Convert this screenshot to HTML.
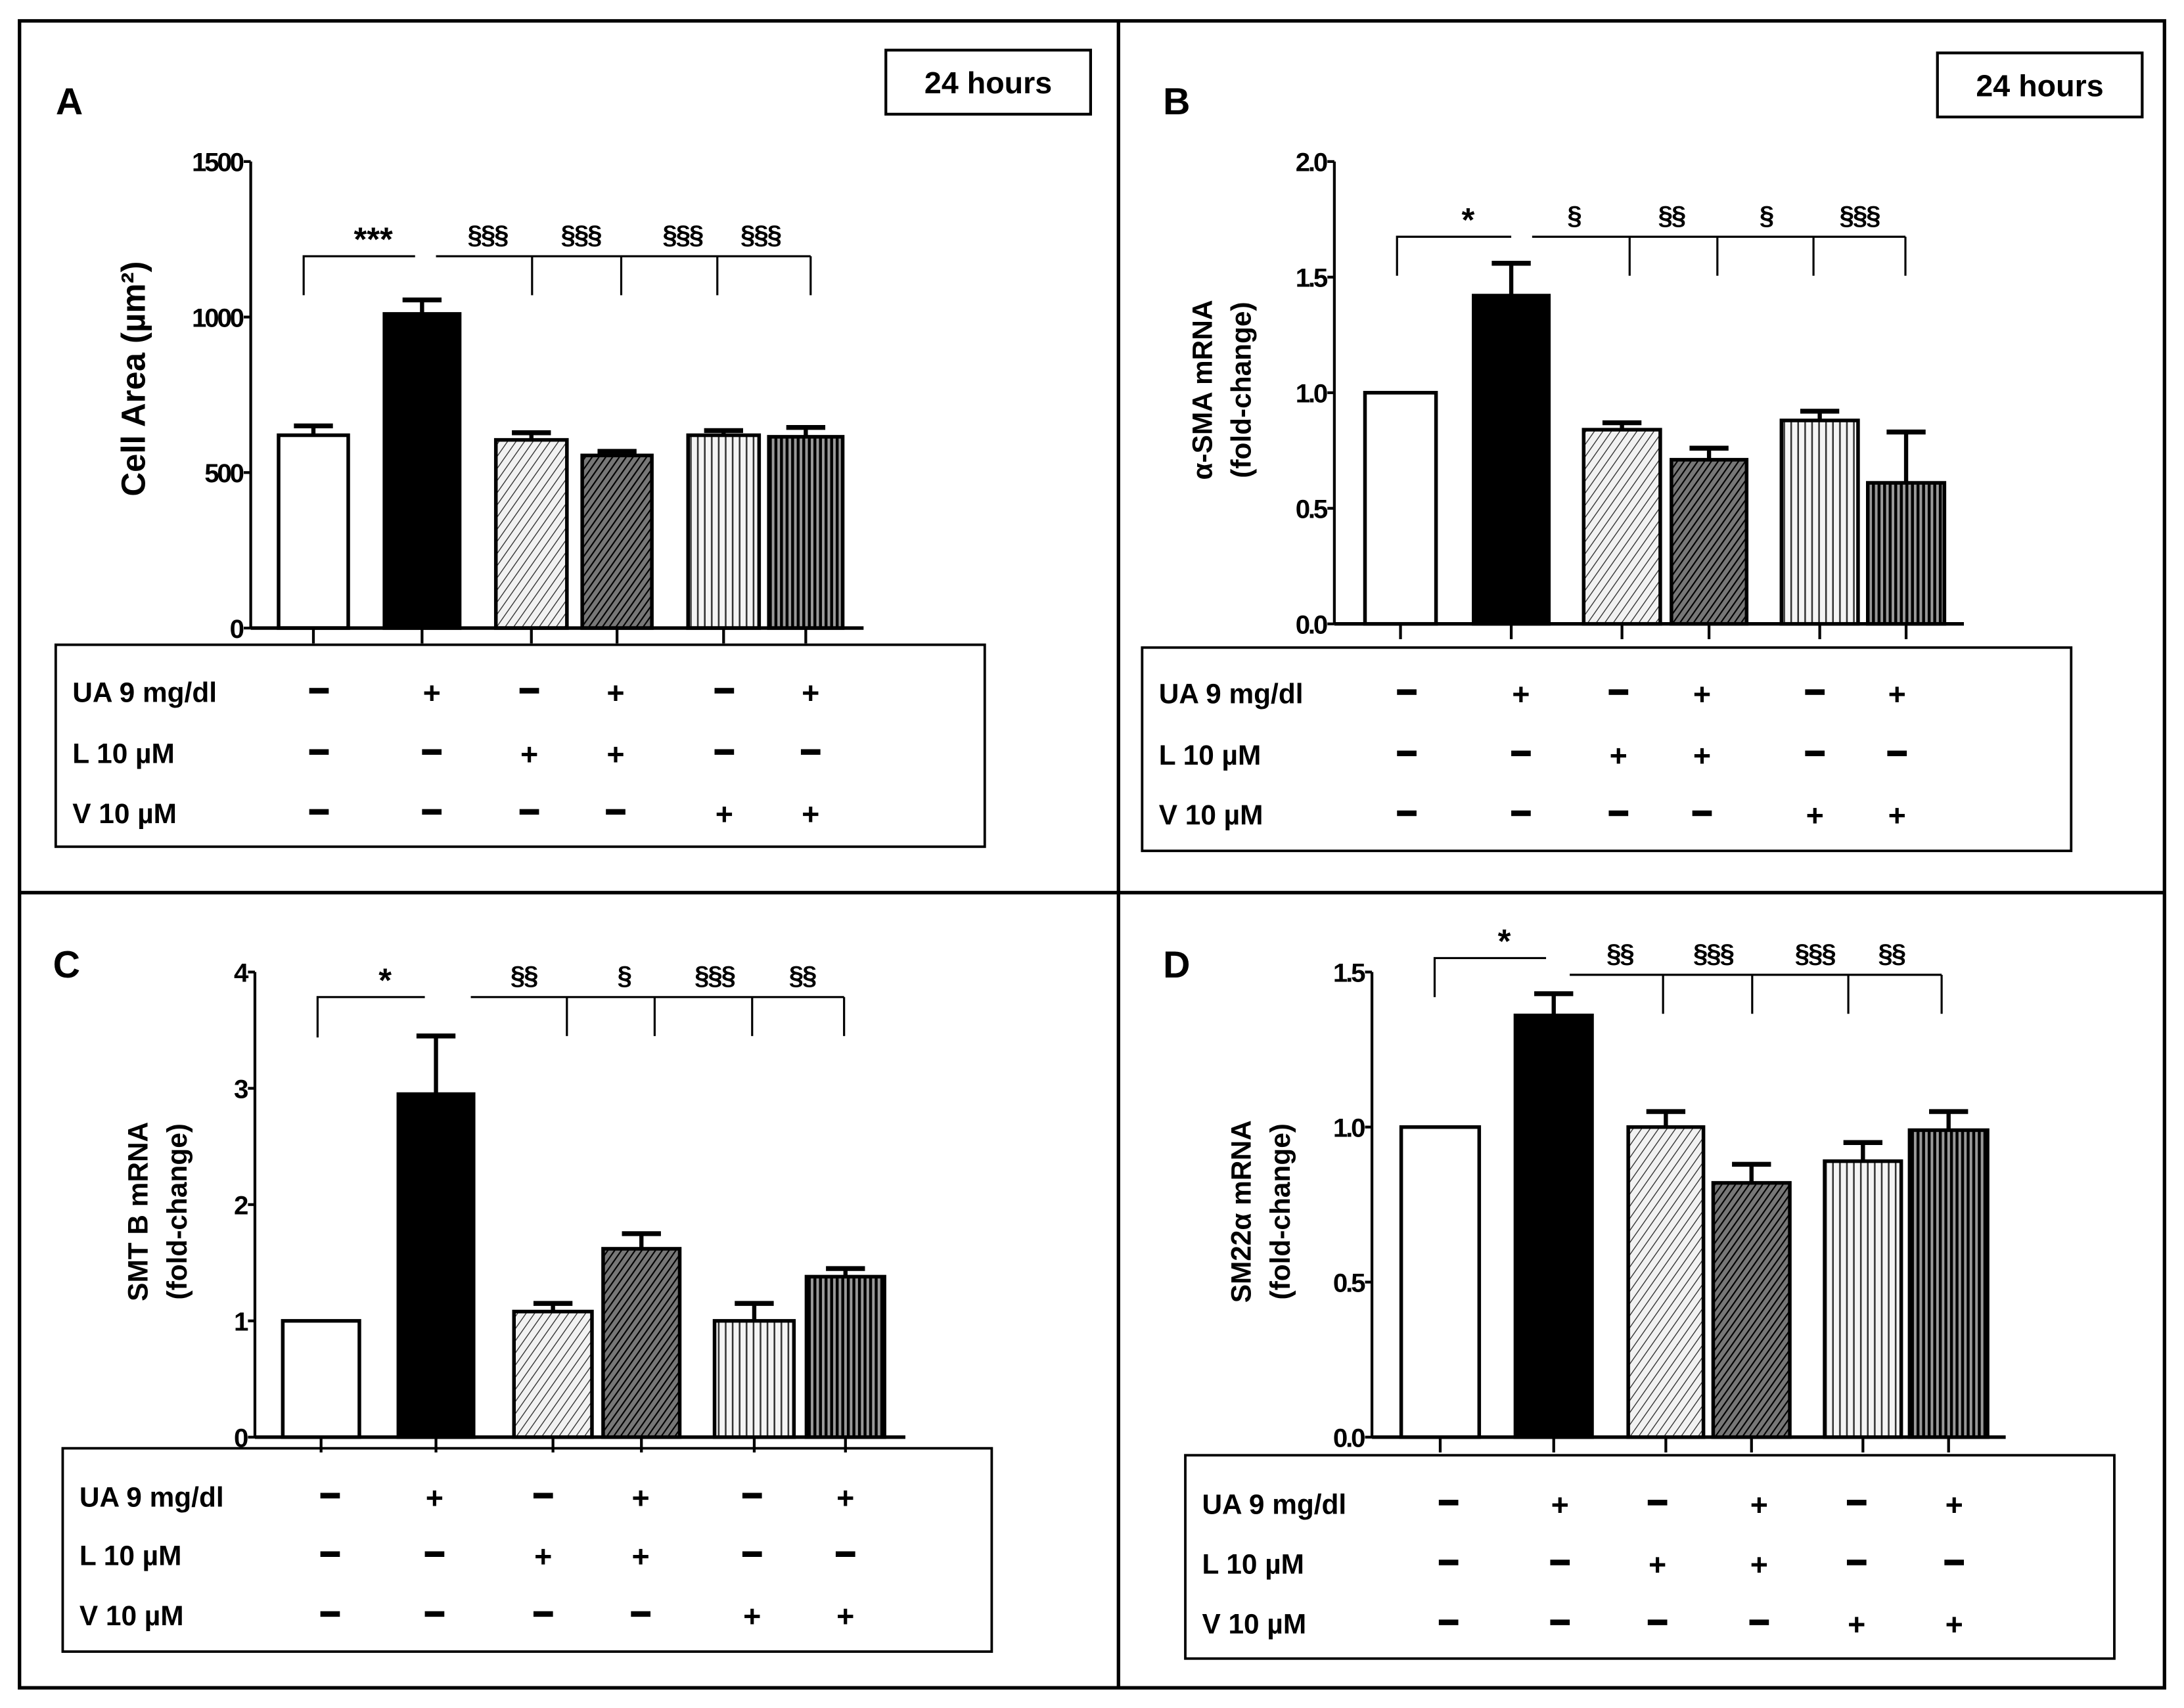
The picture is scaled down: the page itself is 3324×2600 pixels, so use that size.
<!DOCTYPE html>
<html><head><meta charset="utf-8"><style>
html,body{margin:0;padding:0;background:#fff}
svg{display:block}
text{font-family:"Liberation Sans",sans-serif;font-weight:bold;fill:#000}
</style></head><body>
<svg id="fig" width="3324" height="2600" viewBox="0 0 1568 1226.5" xmlns="http://www.w3.org/2000/svg">
<defs>
<pattern id="hatchLight" patternUnits="userSpaceOnUse" width="5" height="5" patternTransform="rotate(35)"><rect width="5" height="5" fill="#f2f2f2"/><line x1="0" y1="0" x2="0" y2="5" stroke="#333" stroke-width="1.3"/></pattern>
<pattern id="hatchDark" patternUnits="userSpaceOnUse" width="4" height="4" patternTransform="rotate(35)"><rect width="4" height="4" fill="#777"/><line x1="0" y1="0" x2="0" y2="4" stroke="#000" stroke-width="2"/></pattern>
<pattern id="vertLight" patternUnits="userSpaceOnUse" width="5" height="5"><rect width="5" height="5" fill="#f4f4f4"/><line x1="1" y1="0" x2="1" y2="5" stroke="#333" stroke-width="1.2"/></pattern>
<pattern id="vertDark" patternUnits="userSpaceOnUse" width="4" height="4"><rect width="4" height="4" fill="#999"/><line x1="1" y1="0" x2="1" y2="4" stroke="#000" stroke-width="2.2"/></pattern>
</defs>
<rect x="14" y="15" width="1540" height="1197" fill="none" stroke="#000" stroke-width="2.5"/>
<line x1="803" y1="15" x2="803" y2="1212" stroke="#000" stroke-width="2.5"/>
<line x1="14" y1="641" x2="1554" y2="641" stroke="#000" stroke-width="2.5"/>
</svg>
<script>
// ---- Panel data ----
const categories = ["Control","UA","L","UA+L","V","UA+V"];
const uaRow = ["−","+","−","+","−","+"];
const lRow  = ["−","−","+","+","−","−"];
const vRow  = ["−","−","−","−","+","+"];
const fills = ["#fff","#000","url(#hatchLight)","url(#hatchDark)","url(#vertLight)","url(#vertDark)"];

const valuesA = [620, 1010, 605, 555, 620, 615];
const errorsA = [650, 1055, 628, 568, 635, 645];
const ticksA = [0, 500, 1000, 1500];
const tickLabelsA = ["0","500","1000","1500"];
const sigA = ["§§§","§§§","§§§","§§§"];

const valuesB = [1.0, 1.42, 0.84, 0.71, 0.88, 0.61];
const errorsB = [1.0, 1.56, 0.87, 0.76, 0.92, 0.83];
const ticksB = [0, 0.5, 1.0, 1.5, 2.0];
const tickLabelsB = ["0.0","0.5","1.0","1.5","2.0"];
const sigB = ["§","§§","§","§§§"];

const valuesC = [1.0, 2.95, 1.08, 1.62, 1.0, 1.38];
const errorsC = [1.0, 3.45, 1.15, 1.75, 1.15, 1.45];
const ticksC = [0, 1, 2, 3, 4];
const tickLabelsC = ["0","1","2","3","4"];
const sigC = ["§§","§","§§§","§§"];

const valuesD = [1.0, 1.36, 1.0, 0.82, 0.89, 0.99];
const errorsD = [1.0, 1.43, 1.05, 0.88, 0.95, 1.05];
const ticksD = [0, 0.5, 1.0, 1.5];
const tickLabelsD = ["0.0","0.5","1.0","1.5"];
const sigD = ["§§","§§§","§§§","§§"];

const NS = "http://www.w3.org/2000/svg";
const svg = document.getElementById("fig");
function mk(tag, attrs, parent, txt){
  const e = document.createElementNS(NS, tag);
  for (const k in attrs) e.setAttribute(k, attrs[k]);
  if (txt !== undefined) e.textContent = txt;
  (parent || svg).appendChild(e);
  return e;
}

function panel(cfg){
  const g = mk("g", {});
  
  
  const yScale = v => cfg.y0 - (v - cfg.ymin) / (cfg.ymax - cfg.ymin) * (cfg.y0 - cfg.y1);
  const L = mk("text", {x: cfg.letterX, y: cfg.letterY, "font-size": 27}, g, cfg.letter);
  
  
  if (cfg.hours){
    const hb = mk("rect", {x: cfg.hours[0], y: cfg.hours[1], width: 147, height: 46, fill: "none", stroke: "#000", "stroke-width": 2}, g);
    
    
    const ht = mk("text", {x: cfg.hours[0] + 73.5, y: cfg.hours[1] + 31, "font-size": 22, "text-anchor": "middle"}, g, "24 hours");
    
    
  }
  const ya = mk("line", {x1: cfg.ax, y1: cfg.y0, x2: cfg.ax, y2: yScale(cfg.ticks[cfg.ticks.length-1]), stroke: "#000", "stroke-width": 2}, g);
  
  
  cfg.ticks.forEach((t, i) => {
    const y = yScale(t);
    mk("line", {x1: cfg.ax - 5, y1: y, x2: cfg.ax, y2: y, stroke: "#000", "stroke-width": 2}, g);
    const tl = mk("text", {x: cfg.ax - 6, y: y + 7, "font-size": 19, "text-anchor": "end", "letter-spacing": "-1.5"}, g, cfg.tickLabels[i]);
    
    
  });
  const tg = mk("g", {transform: `translate(${cfg.titleX},${cfg.titleY}) rotate(-90)`}, g);
  cfg.title.forEach((line, i) => {
    const t = mk("text", {x: 0, y: i * 28, "font-size": cfg.titleSize, "text-anchor": "middle"}, tg, line);
    
    
  });
  cfg.bars.forEach((b, i) => {
    const cx = (b[0] + b[1]) / 2;
    const yv = yScale(cfg.values[i]);
    const ye = yScale(cfg.errors[i]);
    if (cfg.errors[i] > cfg.values[i]) {
      const el = mk("line", {x1: cx, y1: yv, x2: cx, y2: ye, stroke: "#000", "stroke-width": 3}, g);
      
      
      const cap = mk("line", {x1: cx - 14, y1: ye, x2: cx + 14, y2: ye, stroke: "#000", "stroke-width": 3.5}, g);
      
      
    }
    const r = mk("rect", {x: b[0], y: yv, width: b[1] - b[0], height: cfg.y0 - yv, fill: fills[i], stroke: "#000", "stroke-width": 2.6}, g);
    
    
    const tk = mk("line", {x1: cx, y1: cfg.y0, x2: cx, y2: cfg.y0 + 11, stroke: "#000", "stroke-width": 2}, g);
    
    
  });
  const xa = mk("line", {x1: cfg.ax, y1: cfg.y0, x2: cfg.axEnd, y2: cfg.y0, stroke: "#000", "stroke-width": 2.5}, g);
  
  
  const br = cfg.br;
  mk("path", {d: `M${br.l0},${br.ld} V${br.ly} H${br.l1}`, fill: "none", stroke: "#000", "stroke-width": 1.5}, g);
  const st = mk("text", {x: (br.l0 + br.l1) / 2 + 10, y: br.ly - 4, "font-size": 24, "text-anchor": "middle"}, g, cfg.star);
  
  
  mk("line", {x1: br.r0, y1: br.ry, x2: br.drops[br.drops.length-1], y2: br.ry, stroke: "#000", "stroke-width": 1.5}, g);
  br.drops.forEach((d, i) => {
    mk("line", {x1: d, y1: br.ry, x2: d, y2: br.ry + 28, stroke: "#000", "stroke-width": 1.5}, g);
    const s = mk("text", {x: br.sx[i], y: br.ry - 9, "font-size": 19, "text-anchor": "middle", "font-weight": "normal", "letter-spacing": "-1"}, g, cfg.sig[i]);
    
    
  });
  const tb = cfg.table;
  const box = mk("rect", {x: tb.x, y: tb.y, width: tb.w, height: tb.h, fill: "none", stroke: "#000", "stroke-width": 1.8}, g);
  
  
  const rows = [["UA 9 mg/dl", uaRow], ["L 10 µM", lRow], ["V 10 µM", vRow]];
  rows.forEach((row, ri) => {
    const y = tb.rows[ri];
    const t = mk("text", {x: tb.x + 12, y: y + 7, "font-size": 20}, g, row[0]);
    
    
    row[1].forEach((s, ci) => {
      const sx = tb.cols[ci];
      if (s === "+") {
        const p = mk("text", {x: sx, y: y + 8, "font-size": 22, "text-anchor": "middle"}, g, "+");
        
        
      } else {
        const m = mk("rect", {x: sx - 7, y: y - 3, width: 14, height: 4}, g);
        
        
      }
    });
  });
}

panel({name: "panel-a-cell-area", letter: "A", letterX: 40, letterY: 82, hours: [636, 36],
  ax: 180, axEnd: 620, y0: 451, y1: 116, ymin: 0, ymax: 1500,
  ticks: ticksA, tickLabels: tickLabelsA, values: valuesA, errors: errorsA, sig: sigA, star: "***",
  title: ["Cell Area (µm²)"], titleX: 104, titleY: 272, titleSize: 24,
  bars: [[200,250],[276,330],[356,407],[418,468],[494,545],[552,605]],
  br: {l0: 218, l1: 298, ly: 184, ld: 212, r0: 313, ry: 184, drops: [382,446,515,582], sx: [350,417,490,546]},
  table: {x: 40, y: 463, w: 667, h: 145, rows: [497,541,584], cols: [229,310,380,442,520,582]}
});
panel({name: "panel-b-asma", letter: "B", letterX: 835, letterY: 82, hours: [1391, 38],
  ax: 958, axEnd: 1410, y0: 448, y1: 116, ymin: 0, ymax: 2.0,
  ticks: ticksB, tickLabels: tickLabelsB, values: valuesB, errors: errorsB, sig: sigB, star: "*",
  title: ["α-SMA mRNA", "(fold-change)"], titleX: 870, titleY: 280, titleSize: 20,
  bars: [[980,1031],[1058,1112],[1137,1192],[1200,1254],[1279,1334],[1341,1396]],
  br: {l0: 1003, l1: 1085, ly: 170, ld: 198, r0: 1100, ry: 170, drops: [1170,1233,1302,1368], sx: [1130,1200,1268,1335]},
  table: {x: 820, y: 465, w: 667, h: 146, rows: [498,542,585], cols: [1010,1092,1162,1222,1303,1362]}
});
panel({name: "panel-c-smtb", letter: "C", letterX: 38, letterY: 702, hours: null,
  ax: 183, axEnd: 650, y0: 1032, y1: 698, ymin: 0, ymax: 4,
  ticks: ticksC, tickLabels: tickLabelsC, values: valuesC, errors: errorsC, sig: sigC, star: "*",
  title: ["SMT B mRNA", "(fold-change)"], titleX: 106, titleY: 870, titleSize: 20,
  bars: [[203,258],[286,340],[369,425],[433,488],[513,570],[579,635]],
  br: {l0: 228, l1: 305, ly: 716, ld: 745, r0: 338, ry: 716, drops: [407,470,540,606], sx: [376,448,513,576]},
  table: {x: 45, y: 1040, w: 667, h: 146, rows: [1075,1117,1160], cols: [237,312,390,460,540,607]}
});
panel({name: "panel-d-sm22a", letter: "D", letterX: 835, letterY: 702, hours: null,
  ax: 985, axEnd: 1440, y0: 1032, y1: 698, ymin: 0, ymax: 1.5,
  ticks: ticksD, tickLabels: tickLabelsD, values: valuesD, errors: errorsD, sig: sigD, star: "*",
  title: ["SM22α mRNA", "(fold-change)"], titleX: 898, titleY: 870, titleSize: 20,
  bars: [[1006,1062],[1088,1143],[1169,1223],[1230,1285],[1310,1365],[1371,1427]],
  br: {l0: 1030, l1: 1110, ly: 688, ld: 716, r0: 1127, ry: 700, drops: [1194,1258,1327,1394], sx: [1163,1230,1303,1358]},
  table: {x: 851, y: 1045, w: 667, h: 146, rows: [1080,1123,1166], cols: [1040,1120,1190,1263,1333,1403]}
});
</script>
</body></html>
